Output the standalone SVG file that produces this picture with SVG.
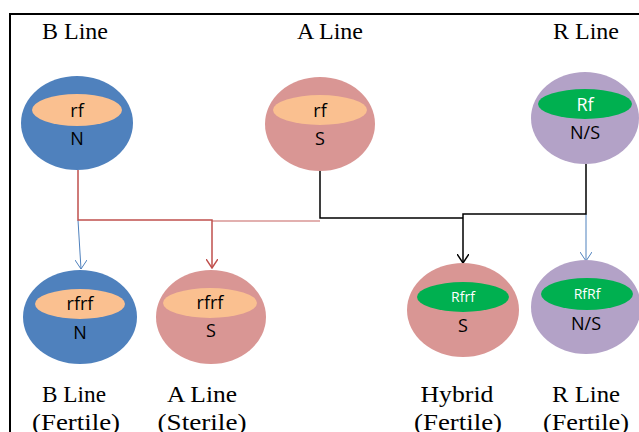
<svg xmlns="http://www.w3.org/2000/svg" width="639" height="432" viewBox="0 0 639 432">
<style>
.lbl{font-family:"Liberation Serif","Times New Roman",serif;font-size:24px;fill:#000;text-anchor:middle}
.bl{font-family:"Liberation Serif","Times New Roman",serif;font-size:23px;fill:#000;text-anchor:middle}
.in{font-family:"Open Sans","Liberation Sans",sans-serif;font-size:18px;fill:#000;text-anchor:middle}
.inw{font-family:"Open Sans","Liberation Sans",sans-serif;fill:#fff;text-anchor:middle}
.blue{fill:#4F81BD}.pink{fill:#D99694}.purple{fill:#B3A2C7}.peach{fill:#FAC090}.green{fill:#00B050}
</style>
<defs>
<marker id="ab" markerWidth="12" markerHeight="10" refX="6" refY="9" markerUnits="userSpaceOnUse" viewBox="0 0 12 10"><path d="M0,0 L6,9 L12,0" fill="none" stroke="#4F81BD" stroke-width="1"/></marker>
<marker id="ar" markerWidth="12" markerHeight="10" refX="6" refY="9" markerUnits="userSpaceOnUse" viewBox="0 0 12 10"><path d="M0,0 L6,9 L12,0" fill="none" stroke="#C0504D" stroke-width="1.5"/></marker>
<marker id="ak" markerWidth="12" markerHeight="10" refX="6" refY="9" markerUnits="userSpaceOnUse" viewBox="0 0 12 10"><path d="M0,0 L6,9 L12,0" fill="none" stroke="#000" stroke-width="1.5"/></marker>
</defs>
<rect x="0" y="0" width="639" height="432" fill="#fff"/>
<path d="M10,433 L10,14 L640,14" fill="none" stroke="#000" stroke-width="2"/>
<text class="lbl" x="75" y="39">B Line</text>
<text class="lbl" x="330" y="39">A Line</text>
<text class="lbl" x="586" y="39">R Line</text>
<g id="connectors" fill="none">
<path d="M78,220 L81,269" stroke="#4F81BD" stroke-width="1" marker-end="url(#ab)"/>
<path d="M586,214 L586,261" stroke="#4F81BD" stroke-width="1" marker-end="url(#ab)"/>
<path d="M320,221 L212,221" stroke="#D99694" stroke-width="1.5"/>
<path d="M78,170 L78,220 L212,220 L212,268" stroke="#C0504D" stroke-width="1.5" marker-end="url(#ar)"/>
<path d="M320,171 L320,218 L463,218" stroke="#000" stroke-width="1.5"/>
<path d="M586,164 L586,214 L463,214 L463,263" stroke="#000" stroke-width="1.5" marker-end="url(#ak)"/>
</g>
<g id="b-top">
<ellipse class="blue" cx="77" cy="123" rx="56" ry="47"/>
<ellipse class="peach" cx="77" cy="110" rx="45" ry="16"/>
<text class="in" x="77" y="117">rf</text>
<text class="in" x="77" y="145">N</text>
</g>
<g id="a-top">
<ellipse class="pink" cx="320" cy="124" rx="55" ry="47"/>
<ellipse class="peach" cx="320" cy="110" rx="47" ry="15"/>
<text class="in" x="320" y="117">rf</text>
<text class="in" x="320" y="145">S</text>
</g>
<g id="r-top">
<ellipse class="purple" cx="585" cy="118" rx="54" ry="46"/>
<ellipse class="green" cx="585" cy="104" rx="47" ry="15"/>
<text class="inw" x="585" y="111" font-size="18">Rf</text>
<text class="in" x="585" y="139">N/S</text>
</g>
<g id="b-bottom">
<ellipse class="blue" cx="80" cy="317" rx="57" ry="47"/>
<ellipse class="peach" cx="80" cy="304" rx="45" ry="15"/>
<text class="in" x="80" y="310">rfrf</text>
<text class="in" x="80" y="339">N</text>
<text class="bl" x="74" y="402" textLength="64" lengthAdjust="spacingAndGlyphs">B Line</text>
<text class="bl" x="76" y="430" textLength="88" lengthAdjust="spacingAndGlyphs">(Fertile)</text>
</g>
<g id="a-bottom">
<ellipse class="pink" cx="211" cy="317" rx="55" ry="47"/>
<ellipse class="peach" cx="210" cy="303" rx="47" ry="15"/>
<text class="in" x="210" y="309">rfrf</text>
<text class="in" x="211" y="337">S</text>
<text class="bl" x="202" y="402" textLength="70" lengthAdjust="spacingAndGlyphs">A Line</text>
<text class="bl" x="202" y="430" textLength="89" lengthAdjust="spacingAndGlyphs">(Sterile)</text>
</g>
<g id="hybrid">
<ellipse class="pink" cx="463" cy="310" rx="56" ry="47"/>
<ellipse class="green" cx="463" cy="297" rx="46" ry="15"/>
<text class="inw" x="463" y="302" font-size="14">Rfrf</text>
<text class="in" x="463" y="332">S</text>
<text class="bl" x="457" y="402" textLength="73" lengthAdjust="spacingAndGlyphs">Hybrid</text>
<text class="bl" x="458" y="430" textLength="88" lengthAdjust="spacingAndGlyphs">(Fertile)</text>
</g>
<g id="r-bottom">
<ellipse class="purple" cx="586" cy="307" rx="55" ry="47"/>
<ellipse class="green" cx="587" cy="294" rx="46" ry="16"/>
<text class="inw" x="587" y="299" font-size="14">RfRf</text>
<text class="in" x="586" y="330">N/S</text>
<text class="bl" x="586" y="402" textLength="68" lengthAdjust="spacingAndGlyphs">R Line</text>
<text class="bl" x="586" y="430" textLength="86" lengthAdjust="spacingAndGlyphs">(Fertile)</text>
</g>
</svg>
